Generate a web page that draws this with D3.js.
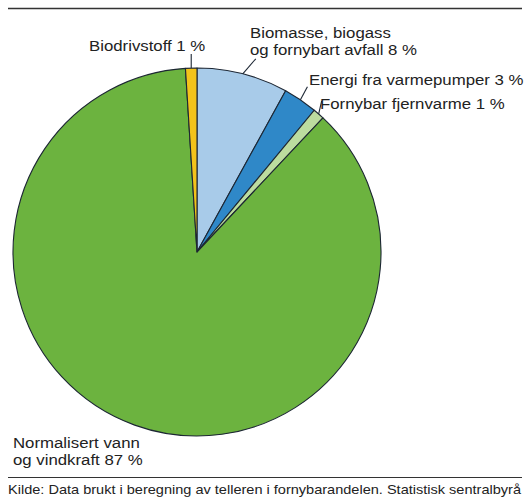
<!DOCTYPE html>
<html>
<head>
<meta charset="utf-8">
<script src="https://cdn.jsdelivr.net/npm/d3@7"></script>
<style>
  html, body { margin: 0; padding: 0; background: #fff; }
  svg { display: block; }
  text { font-family: "Liberation Sans", Arial, sans-serif; fill: #222; }
</style>
</head>
<body>
<svg id="chart" width="532" height="500"></svg>
<script>
// Renewable energy shares (per cent), clockwise from twelve o'clock
const categories = [
  "Biomasse, biogass og fornybart avfall",
  "Energi fra varmepumper",
  "Fornybar fjernvarme",
  "Normalisert vann og vindkraft",
  "Biodrivstoff"
];
const shares = [8, 3, 1, 87, 1];
const labelLines = [
  ["Biomasse, biogass", "og fornybart avfall 8 %"],
  ["Energi fra varmepumper 3 %"],
  ["Fornybar fjernvarme 1 %"],
  ["Normalisert vann", "og vindkraft 87 %"],
  ["Biodrivstoff 1 %"]
];
const sliceColors = ["#a8cbe9", "#2f88c8", "#bcdc9f", "#6cb33f", "#f3c31b"];
const sourceText = "Kilde: Data brukt i beregning av telleren i fornybarandelen. Statistisk sentralbyrå";

const cx = 197, cy = 252, R = 184;
const svg = d3.select("#chart");

// Rules at top and bottom
svg.append("line").attr("x1", 8).attr("x2", 522).attr("y1", 8.5).attr("y2", 8.5)
  .attr("stroke", "#333").attr("stroke-width", 1.4);
svg.append("line").attr("x1", 8).attr("x2", 522).attr("y1", 477.5).attr("y2", 477.5)
  .attr("stroke", "#333").attr("stroke-width", 1.2);

const data = categories.map((c, i) => ({ name: c, value: shares[i], color: sliceColors[i], lines: labelLines[i] }));

const pie = d3.pie().value(d => d.value).sort(null);
const arc = d3.arc().innerRadius(0).outerRadius(R);
const arcs = pie(data);

const g = svg.append("g").attr("transform", `translate(${cx},${cy})`);
g.selectAll("path.slice").data(arcs).join("path")
  .attr("class", "slice")
  .attr("d", arc)
  .attr("fill", d => d.data.color)
  .attr("stroke", "#1c2633")
  .attr("stroke-width", 1.1)
  .attr("stroke-linejoin", "round");

// Label layout: leader end offset from the rim point, and text anchor point
const labelLayout = [
  { leader: [13, -15], text: [250, 38], lh: 17 },
  { leader: [7, -13], text: [309, 85], lh: 17 },
  { leader: [3, -13], text: [320, 109], lh: 17 },
  { leader: null, text: [13, 448], lh: 17 },
  { leader: [0, -14], text: [89, 51], lh: 17 }
];

arcs.forEach((a, i) => {
  const L = labelLayout[i];
  if (L.leader) {
    const mid = (a.startAngle + a.endAngle) / 2;
    const x0 = cx + R * Math.sin(mid), y0 = cy - R * Math.cos(mid);
    svg.append("line")
      .attr("x1", x0).attr("y1", y0)
      .attr("x2", x0 + L.leader[0]).attr("y2", y0 + L.leader[1])
      .attr("stroke", "#1c2633").attr("stroke-width", 1.1);
  }
  // Labels are set in a slightly widened face
  a.data.lines.forEach((ln, j) => {
    svg.append("text")
      .attr("transform", `translate(${L.text[0]},${L.text[1] + j * L.lh}) scale(1.12,1)`)
      .attr("font-size", 15)
      .text(ln);
  });
});

svg.append("text").attr("x", 8).attr("y", 494)
  .attr("font-size", 13)
  .attr("textLength", 513).attr("lengthAdjust", "spacingAndGlyphs")
  .text(sourceText);
</script>
</body>
</html>
